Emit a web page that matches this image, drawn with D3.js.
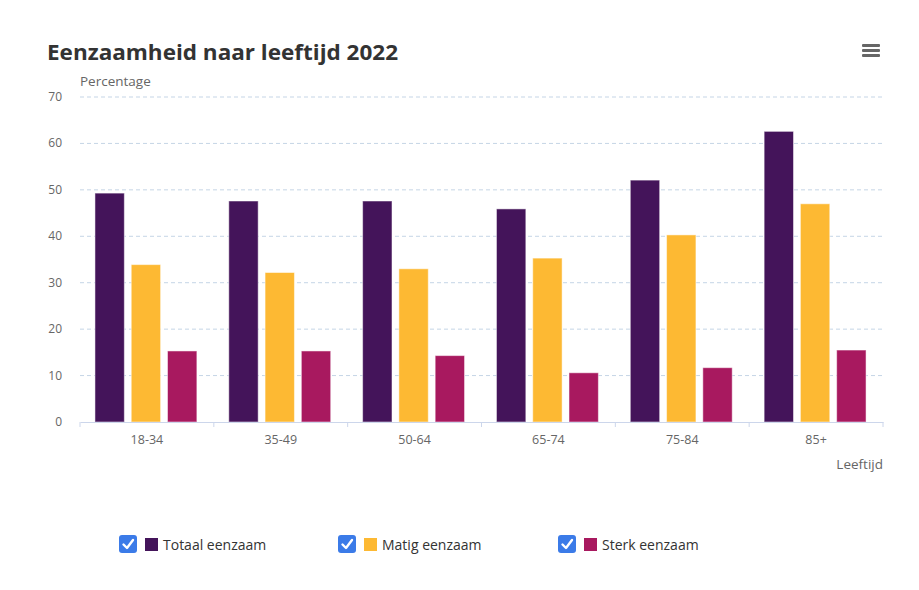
<!DOCTYPE html>
<html lang="nl">
<head>
<meta charset="utf-8">
<title>Eenzaamheid naar leeftijd 2022</title>
<script src="https://cdn.jsdelivr.net/npm/d3@7"></script>
<style>
  body { margin: 0; background: #fff; font-family: "Open Sans", Lato, sans-serif; }
  svg text { font-family: "Open Sans", Lato, sans-serif; }
</style>
</head>
<body>
<div id="chart"></div>
<script>
// data
const categories = ["18-34", "35-49", "50-64", "65-74", "75-84", "85+"];
const seriesNames = ["Totaal eenzaam", "Matig eenzaam", "Sterk eenzaam"];
const totaal = [49.3, 47.6, 47.6, 45.9, 52.1, 62.6];
const matig = [33.9, 32.2, 33.0, 35.3, 40.3, 47.0];
const sterk = [15.3, 15.3, 14.3, 10.6, 11.7, 15.5];
const yTicks = [0, 10, 20, 30, 40, 50, 60, 70];
const colors = ["#44145a", "#fdb933", "#a8195f"];

const W = 919, H = 590;
const m = { left: 80, right: 36, top: 97, bottom: 168 };
const w = W - m.left - m.right, h = H - m.top - m.bottom;

const svg = d3.select("#chart").append("svg").attr("width", W).attr("height", H);

svg.append("text").attr("x", 47).attr("y", 60)
  .attr("font-size", 22).attr("font-weight", "bold").attr("fill", "#333")
  .attr("textLength", 351).attr("lengthAdjust", "spacingAndGlyphs")
  .text("Eenzaamheid naar leeftijd 2022");

// menu icon
[0, 5, 10].forEach(d => {
  svg.append("rect").attr("x", 862).attr("y", 44 + d).attr("width", 18).attr("height", 3)
    .attr("rx", 1).attr("fill", "#666");
});

const g = svg.append("g").attr("transform", `translate(${m.left},${m.top})`);

const x = d3.scaleBand().domain(categories).range([0, w]).paddingInner(0).paddingOuter(0);
const x1 = d3.scaleBand().domain(seriesNames).range([0, x.bandwidth()]).paddingInner(0.19).paddingOuter(0.44);
const y = d3.scaleLinear().domain([0, 70]).range([h, 0]);

// grid
g.append("g").selectAll("line").data(yTicks.filter(d => d > 0)).enter().append("line")
  .attr("x1", 0).attr("x2", w).attr("y1", d => y(d)).attr("y2", d => y(d))
  .attr("stroke", "#c5d5e6").attr("stroke-dasharray", "4,3");

// y axis labels
g.append("g").selectAll("text").data(yTicks).enter().append("text")
  .attr("x", -18).attr("y", d => y(d) + 4).attr("text-anchor", "end")
  .attr("font-size", 12).attr("fill", "#666").text(d => d);

svg.append("text").attr("x", 80).attr("y", 86).attr("font-size", 13.5).attr("fill", "#666")
  .text("Percentage");

// bars
const series = [totaal, matig, sterk];
const groups = g.append("g").selectAll("g").data(categories).enter().append("g")
  .attr("transform", d => `translate(${x(d) - 1},0)`);
groups.selectAll("rect").data((d, i) => seriesNames.map((s, j) => ({ s, j, v: series[j][i] })))
  .enter().append("rect")
  .attr("x", d => x1(d.s)).attr("width", x1.bandwidth())
  .attr("y", d => y(d.v)).attr("height", d => h - y(d.v))
  .attr("fill", d => colors[d.j]).attr("stroke", "#fff").attr("stroke-opacity", 0.5);

// x axis
const xAxis = g.append("g").attr("transform", `translate(0,${h})`)
  .call(d3.axisBottom(x).tickSize(0).tickPadding(13));
xAxis.select(".domain").attr("stroke", "#ccd6eb");
xAxis.selectAll("text").attr("font-size", 12.5).attr("fill", "#666")
  .attr("font-family", "'Open Sans', Lato, sans-serif");
xAxis.selectAll(".bd").data(d3.range(categories.length + 1)).enter().append("line")
  .attr("x1", d => d * x.bandwidth()).attr("x2", d => d * x.bandwidth())
  .attr("y1", 0).attr("y2", 5).attr("stroke", "#ccd6eb");

svg.append("text").attr("x", 883).attr("y", 469).attr("text-anchor", "end")
  .attr("font-size", 13.5).attr("fill", "#666").text("Leeftijd");

// legend
const legX = [119, 338, 558];
const leg = svg.append("g").selectAll("g").data(seriesNames).enter().append("g")
  .attr("transform", (d, i) => `translate(${legX[i]},535)`);
leg.append("rect").attr("width", 18).attr("height", 18).attr("rx", 3).attr("fill", "#3b7be8");
leg.append("path").attr("d", "M4.5,9.5 L8,13 L14,5").attr("fill", "none")
  .attr("stroke", "#fff").attr("stroke-width", 2.4).attr("stroke-linecap", "round").attr("stroke-linejoin", "round");
leg.append("rect").attr("x", 26).attr("y", 3).attr("width", 13).attr("height", 13)
  .attr("fill", (d, i) => colors[i]);
leg.append("text").attr("x", 44).attr("y", 15).attr("font-size", 14).attr("fill", "#333").text(d => d);
</script>
</body>
</html>
